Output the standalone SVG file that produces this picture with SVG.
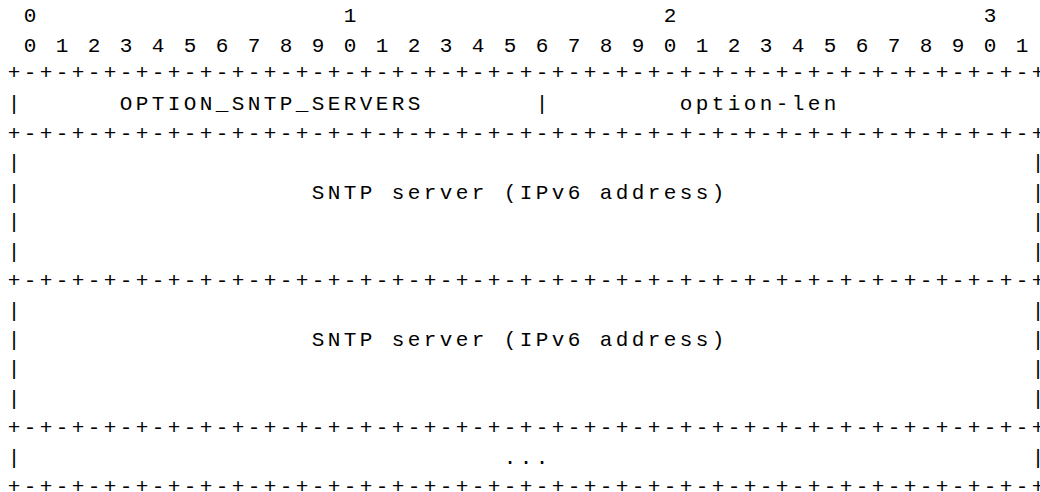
<svg xmlns="http://www.w3.org/2000/svg" width="1040" height="492" viewBox="0 0 1040 492" xml:space="preserve">
<style>
text { font-family: "Liberation Mono", "Courier New", monospace; font-size: 21px; letter-spacing: 3.4px; fill: #000; white-space: pre; }
</style>
<rect width="1040" height="492" fill="#fff"/>
<g id="bit-ruler">
<text x="7.7" y="22"> 0                   1                   2                   3</text>
<text x="7.7" y="51.5"> 0 1 2 3 4 5 6 7 8 9 0 1 2 3 4 5 6 7 8 9 0 1 2 3 4 5 6 7 8 9 0 1</text>
</g>
<g id="connectors">
<text x="7.7" y="78.8">+-+-+-+-+-+-+-+-+-+-+-+-+-+-+-+-+-+-+-+-+-+-+-+-+-+-+-+-+-+-+-+-+</text>
<text x="7.7" y="139.8">+-+-+-+-+-+-+-+-+-+-+-+-+-+-+-+-+-+-+-+-+-+-+-+-+-+-+-+-+-+-+-+-+</text>
<text x="7.7" y="287">+-+-+-+-+-+-+-+-+-+-+-+-+-+-+-+-+-+-+-+-+-+-+-+-+-+-+-+-+-+-+-+-+</text>
<text x="7.7" y="434.3">+-+-+-+-+-+-+-+-+-+-+-+-+-+-+-+-+-+-+-+-+-+-+-+-+-+-+-+-+-+-+-+-+</text>
<text x="7.7" y="493">+-+-+-+-+-+-+-+-+-+-+-+-+-+-+-+-+-+-+-+-+-+-+-+-+-+-+-+-+-+-+-+-+</text>
</g>
<g id="option-header">
<text x="7.7" y="109.6">|      OPTION_SNTP_SERVERS       |        option-len             |</text>
</g>
<g id="sntp-server-1">
<text x="7.7" y="169.3">|                                                               |</text>
<text x="7.7" y="198.7">|                  SNTP server (IPv6 address)                   |</text>
<text x="7.7" y="228.2">|                                                               |</text>
<text x="7.7" y="257.6">|                                                               |</text>
</g>
<g id="sntp-server-2">
<text x="7.7" y="316.5">|                                                               |</text>
<text x="7.7" y="345.9">|                  SNTP server (IPv6 address)                   |</text>
<text x="7.7" y="375.4">|                                                               |</text>
<text x="7.7" y="404.8">|                                                               |</text>
</g>
<g id="more-servers">
<text x="7.7" y="463.7">|                              ...                              |</text>
</g>
</svg>
